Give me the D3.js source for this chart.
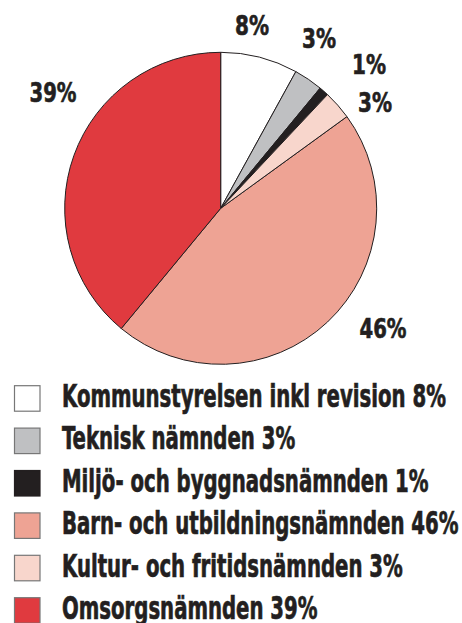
<!DOCTYPE html>
<html><head><meta charset="utf-8">
<script src="https://cdn.jsdelivr.net/npm/d3@7"></script>
<style>html,body{margin:0;padding:0;background:#fff;}svg{display:block;}</style>
</head><body>
<svg id="c" width="462" height="623"></svg>
<script>
const categories = ["Kommunstyrelsen inkl revision","Teknisk nämnden","Miljö- och byggnadsnämnden","Barn- och utbildningsnämnden","Kultur- och fritidsnämnden","Omsorgsnämnden"];
const values = [8,3,1,46,3,39];
const colors = ["#ffffff","#bfc0c2","#231f20","#eea394","#f8d6cc","#e03a3f"];
// clockwise order of slices in the pie (indices into categories)
const pieOrder = [0,1,2,4,3,5];
// label anchor (centre x, baseline y) for each category
const labelPos = [[252,35],[319,48],[369,74],[383,338],[375,112],[53,102]];

const svg = d3.select("#c");
const font = "'Liberation Sans Narrow','DejaVu Sans Condensed',sans-serif";
const cx = 220.7, cy = 208.3, r = 156;

const pie = d3.pie().sort((a,b)=>pieOrder.indexOf(a)-pieOrder.indexOf(b)).value(i=>values[i]);
const arcs = pie(d3.range(values.length));
const arc = d3.arc().innerRadius(0).outerRadius(r);
const g = svg.append("g").attr("transform",`translate(${cx},${cy})`);
g.selectAll("path").data(arcs).join("path")
  .attr("d",arc).attr("fill",d=>colors[d.data])
  .attr("stroke","#231f20").attr("stroke-width",1);

// pie labels
const lab = svg.append("g");
values.forEach((v,i)=>{
  const p = labelPos[i];
  const t = lab.append("text").text(v+"%")
    .attr("font-family",font).attr("font-weight","bold").attr("font-size",26)
    .attr("fill","#231f20").attr("stroke","#231f20").attr("stroke-width",0.6)
    .attr("text-anchor","middle");
  const w = t.node().getComputedTextLength();
  const target = (String(v).length===1?34:47);
  t.attr("transform",`translate(${p[0]},${p[1]}) scale(${target/w},1)`);
});

// legend
const leg = svg.append("g");
const rowY = d3.range(categories.length).map(i=>385.7+i*42.4);
categories.forEach((c,i)=>{
  leg.append("rect").attr("x",14.5).attr("y",rowY[i]).attr("width",25.5).attr("height",25.5)
    .attr("fill",colors[i]).attr("stroke", i===2?"#231f20":"#777").attr("stroke-width",1.2);
});
const texts = categories.map((c,i)=> leg.append("text").text(c+" "+values[i]+"%")
  .attr("font-family",font).attr("font-weight","bold").attr("font-size",31.5)
  .attr("fill","#231f20").attr("stroke","#231f20").attr("stroke-width",0.7));
const w0 = texts[0].node().getComputedTextLength();
const sx = 384/w0;
texts.forEach((t,i)=>t.attr("transform",`translate(62,${rowY[i]+21.3}) scale(${sx},1)`));
</script>
</body></html>
